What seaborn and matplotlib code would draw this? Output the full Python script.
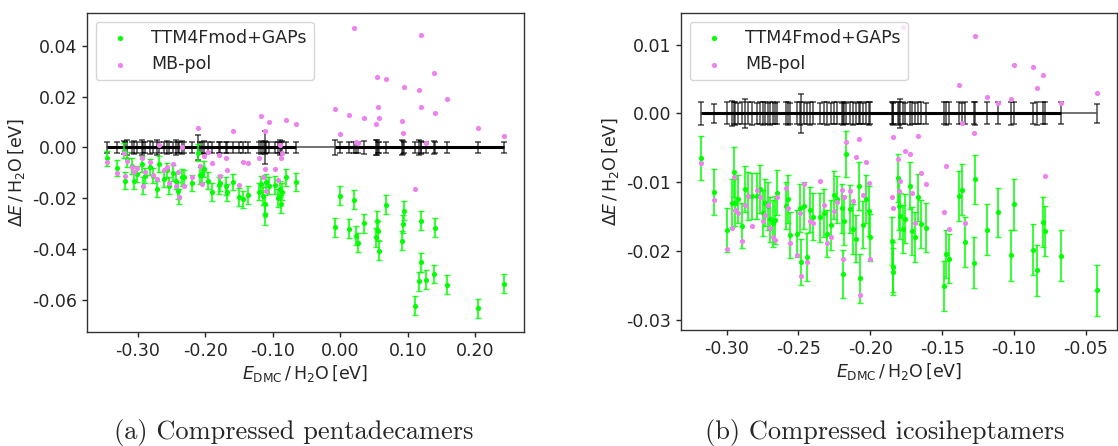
import numpy as np
import seaborn as sns
import matplotlib
matplotlib.use("Agg")
from matplotlib import pyplot as plt
from matplotlib.ticker import FormatStrFormatter

# (a) compressed pentadecamers: E_DMC per H2O, DMC error, TTM4Fmod+GAPs deviation (+ error), MB-pol deviation
penta_x = [-0.346, -0.331, -0.321, -0.319, -0.316, -0.309, -0.306, -0.301, -0.294, -0.292,
           -0.289, -0.282, -0.277, -0.272, -0.269, -0.262, -0.257, -0.254, -0.248, -0.243,
           -0.240, -0.239, -0.235, -0.231,
           -0.220, -0.211, -0.208, -0.205, -0.202, -0.196, -0.190, -0.180, -0.178, -0.170,
           -0.168, -0.159, -0.150, -0.144, -0.137, -0.120, -0.117, -0.114, -0.112, -0.111,
           -0.110, -0.106, -0.096, -0.093, -0.089, -0.088, -0.087, -0.080, -0.065,
           -0.008, 0.000, 0.013, 0.021, 0.023, 0.027, 0.035, 0.053, 0.055, 0.056,
           0.058, 0.068, 0.092, 0.093, 0.095, 0.111, 0.117, 0.119, 0.120, 0.127,
           0.139, 0.141, 0.159, 0.204, 0.243]
penta_dmc_err = [0.0023, 0.0023, 0.0025, 0.0023, 0.0028, 0.0023, 0.0025, 0.0023, 0.0028, 0.0023,
                 0.0023, 0.0025, 0.0023, 0.0028, 0.0023, 0.0023, 0.0025, 0.0023, 0.0023, 0.0028,
                 0.0023, 0.0023, 0.0025, 0.0023,
                 0.0023, 0.0050, 0.0023, 0.0023, 0.0025, 0.0023, 0.0023, 0.0023, 0.0023, 0.0023,
                 0.0023, 0.0023, 0.0023, 0.0023, 0.0023, 0.0023, 0.0025, 0.0023, 0.0025, 0.0065,
                 0.0023, 0.0023, 0.0023, 0.0023, 0.0028, 0.0023, 0.0025, 0.0023, 0.0023,
                 0.0030, 0.0023, 0.0023, 0.0023, 0.0023, 0.0023, 0.0025, 0.0030, 0.0028, 0.0023,
                 0.0023, 0.0023, 0.0028, 0.0025, 0.0023, 0.0023, 0.0028, 0.0025, 0.0023, 0.0023,
                 0.0025, 0.0023, 0.0023, 0.0023, 0.0023]
penta_ttm = [-0.0043, -0.0082, -0.0013, -0.0131, -0.0046, -0.0072, -0.0131, -0.0104, -0.0065, -0.0150,
             -0.0111, -0.0078, -0.0111, -0.0163, -0.0065, -0.0124, -0.0090, -0.0150, -0.0100, -0.0131,
             -0.0170, -0.0193, -0.0118, -0.0118,
             -0.0140, -0.0020, -0.0110, -0.0104, -0.0085, -0.0130, -0.0174, -0.0148, -0.0140, -0.0150,
             -0.0176, -0.0135, -0.0196, -0.0203, -0.0187, -0.0174, -0.0144, -0.0190, -0.0222, -0.0265,
             -0.0137, -0.0150, -0.0148, -0.0200, -0.0163, -0.0222, -0.0174, -0.0118, -0.0135,
             -0.0314, -0.0190, -0.0320, -0.0205, -0.0346, -0.0375, -0.0298, -0.0353, -0.0288, -0.0327,
             -0.0405, -0.0225, -0.0366, -0.0301, -0.0248, -0.0621, -0.0525, -0.0451, -0.0288, -0.0520,
             -0.0497, -0.0316, -0.0539, -0.0631, -0.0535]
penta_ttm_err = [0.0030, 0.0032, 0.0030, 0.0033, 0.0030, 0.0032, 0.0033, 0.0030, 0.0032, 0.0033,
                 0.0030, 0.0032, 0.0030, 0.0033, 0.0030, 0.0032, 0.0030, 0.0033, 0.0030, 0.0032,
                 0.0033, 0.0030, 0.0032, 0.0030,
                 0.0033, 0.0035, 0.0032, 0.0030, 0.0033, 0.0032, 0.0035, 0.0033, 0.0032, 0.0035,
                 0.0033, 0.0032, 0.0035, 0.0033, 0.0035, 0.0033, 0.0032, 0.0035, 0.0035, 0.0040,
                 0.0033, 0.0032, 0.0035, 0.0035, 0.0033, 0.0035, 0.0033, 0.0032, 0.0035,
                 0.0037, 0.0037, 0.0037, 0.0037, 0.0037, 0.0037, 0.0037, 0.0037, 0.0037, 0.0037,
                 0.0037, 0.0037, 0.0037, 0.0037, 0.0037, 0.0037, 0.0037, 0.0037, 0.0037, 0.0037,
                 0.0037, 0.0037, 0.0037, 0.0037, 0.0037]
penta_mbpol = [-0.0056, -0.0101, -0.0020, -0.0111, -0.0052, -0.0078, -0.0098, -0.0082, -0.0043, -0.0153,
               -0.0095, -0.0059, -0.0108, -0.0125, 0.0009, -0.0090, -0.0076, -0.0140, -0.0065, -0.0150,
               -0.0098, -0.0196, 0.0000, -0.0150,
               -0.0116, 0.0076, -0.0072, -0.0144, -0.0035, -0.0017, -0.0061, -0.0029, -0.0111, -0.0043,
               -0.0088, 0.0065, -0.0146, -0.0056, -0.0063, -0.0042, 0.0124, -0.0115, -0.0086, 0.0065,
               -0.0170, 0.0098, -0.0085, -0.0128, 0.0009, -0.0043, -0.0020, 0.0108, 0.0092,
               0.0152, 0.0054, 0.0127, 0.0471, 0.0022, 0.0017, 0.0114, 0.0094, 0.0275, 0.0158,
               0.0116, 0.0267, 0.0102, 0.0058, 0.0238, -0.0165, 0.0227, 0.0442, 0.0159, 0.0016,
               0.0294, 0.0137, 0.0191, 0.0078, 0.0045]

# (b) compressed icosiheptamers
icosi_x = [-0.318, -0.309, -0.300, -0.296, -0.295, -0.294, -0.292, -0.289, -0.287, -0.285,
           -0.282, -0.279, -0.277, -0.275, -0.273, -0.271, -0.270, -0.268, -0.266, -0.265,
           -0.259, -0.257, -0.256, -0.251, -0.249, -0.248, -0.246, -0.244, -0.242, -0.240,
           -0.235, -0.232, -0.230, -0.227, -0.225, -0.223, -0.220, -0.219, -0.218, -0.217,
           -0.214, -0.212, -0.210, -0.208, -0.207, -0.205, -0.203, -0.201, -0.200, -0.185,
           -0.1845, -0.184, -0.181, -0.180, -0.179, -0.177, -0.176, -0.172, -0.171, -0.169,
           -0.167, -0.165, -0.161, -0.149, -0.147, -0.145,
           -0.138, -0.136, -0.134, -0.128, -0.127, -0.119, -0.111, -0.102, -0.100, -0.087,
           -0.084, -0.080, -0.078, -0.067, -0.042]
icosi_dmc_err = [0.0017, 0.0014, 0.0016, 0.0018, 0.0016, 0.0017, 0.0015, 0.0016, 0.0021, 0.0016,
                 0.0017, 0.0015, 0.0016, 0.0017, 0.0016, 0.0015, 0.0017, 0.0016, 0.0015, 0.0016,
                 0.0016, 0.0017, 0.0015, 0.0016, 0.0017, 0.0028, 0.0016, 0.0015, 0.0017, 0.0016,
                 0.0015, 0.0016, 0.0017, 0.0015, 0.0016, 0.0016, 0.0015, 0.0017, 0.0016, 0.0015,
                 0.0016, 0.0017, 0.0015, 0.0016, 0.0016, 0.0015, 0.0016, 0.0017, 0.0016, 0.0016,
                 0.0017, 0.0015, 0.0016, 0.0017, 0.0021, 0.0016, 0.0015, 0.0017, 0.0016, 0.0015,
                 0.0016, 0.0016, 0.0015, 0.0016, 0.0017, 0.0016,
                 0.0016, 0.0015, 0.0016, 0.0016, 0.0017, 0.0016, 0.0016, 0.0017, 0.0016, 0.0015,
                 0.0017, 0.0016, 0.0016, 0.0016, 0.0014]
icosi_ttm = [-0.0065, -0.0114, -0.0170, -0.0130, -0.0085, -0.0130, -0.0125, -0.0163, -0.0110, -0.0120,
             -0.0120, -0.0120, -0.0110, -0.0145, -0.0130, -0.0134, -0.0154, -0.0160, -0.0155, -0.0115,
             -0.0134, -0.0125, -0.0177, -0.0175, -0.0137, -0.0216, -0.0134, -0.0209, -0.0140, -0.0150,
             -0.0151, -0.0145, -0.0175, -0.0162, -0.0119, -0.0125, -0.0138, -0.0234, -0.0156, -0.0059,
             -0.0139, -0.0168, -0.0182, -0.0105, -0.0240, -0.0162, -0.0125, -0.0142, -0.0180, -0.0185,
             -0.0223, -0.0230, -0.0094, -0.0134, -0.0149, -0.0168, -0.0153, -0.0105, -0.0171, -0.0180,
             -0.0122, -0.0161, -0.0166, -0.0251, -0.0204, -0.0211,
             -0.0120, -0.0111, -0.0187, -0.0217, -0.0096, -0.0169, -0.0144, -0.0206, -0.0132, -0.0198,
             -0.0228, -0.0158, -0.0171, -0.0207, -0.0257]
icosi_ttm_err = [0.0032, 0.0033, 0.0032, 0.0035, 0.0036, 0.0034, 0.0035, 0.0033, 0.0034, 0.0035,
                 0.0033, 0.0034, 0.0035, 0.0033, 0.0034, 0.0035, 0.0033, 0.0034, 0.0035, 0.0033,
                 0.0034, 0.0035, 0.0033, 0.0034, 0.0035, 0.0033, 0.0034, 0.0035, 0.0033, 0.0034,
                 0.0036, 0.0035, 0.0034, 0.0036, 0.0035, 0.0034, 0.0036, 0.0035, 0.0036, 0.0034,
                 0.0035, 0.0036, 0.0034, 0.0035, 0.0036, 0.0034, 0.0035, 0.0036, 0.0034, 0.0035,
                 0.0036, 0.0034, 0.0035, 0.0036, 0.0034, 0.0035, 0.0036, 0.0034, 0.0035, 0.0036,
                 0.0034, 0.0035, 0.0036, 0.0036, 0.0035, 0.0036,
                 0.0036, 0.0037, 0.0036, 0.0037, 0.0036, 0.0037, 0.0036, 0.0037, 0.0037, 0.0037,
                 0.0037, 0.0036, 0.0037, 0.0037, 0.0037]
icosi_mbpol = [-0.0072, -0.0126, -0.0197, -0.0167, -0.0092, -0.0140, -0.0145, -0.0185, -0.0133, -0.0120,
               -0.0163, -0.0112, -0.0122, -0.0156, -0.0148, -0.0133, -0.0166, -0.0180, -0.0184, -0.0122,
               -0.0108, -0.0138, -0.0189, -0.0206, -0.0145, -0.0237, -0.0103, -0.0216, -0.0157, -0.0160,
               -0.0098, -0.0133, -0.0189, -0.0179, -0.0142, -0.0129, -0.0111, -0.0212, -0.0122, -0.0042,
               -0.0113, -0.0128, -0.0064, -0.0037, -0.0264, -0.0119, -0.0071, -0.0101, -0.0212, -0.0121,
               -0.0138, -0.0035, -0.0066, -0.0113, -0.0098, 0.0125, -0.0054, -0.0059, -0.0115, -0.0159,
               -0.0033, -0.0086, -0.0102, -0.0143, -0.0076, -0.0168,
               0.0041, -0.0014, -0.0160, -0.0029, 0.0113, 0.0024, 0.0015, 0.0021, 0.0070, 0.0067,
               0.0037, 0.0056, -0.0091, 0.0015, 0.0029]

panels = [
    ("(a) Compressed pentadecamers", penta_x, penta_dmc_err, penta_ttm, penta_ttm_err, penta_mbpol, 0.05),
    ("(b) Compressed icosiheptamers", icosi_x, icosi_dmc_err, icosi_ttm, icosi_ttm_err, icosi_mbpol, 0.02),
]

sns.set_style("ticks", {"axes.edgecolor": "0.2"})
plt.rcParams['font.family'] = ['DejaVu Sans']
plt.rcParams['axes.unicode_minus'] = False
plt.rcParams['axes.linewidth'] = 1.0

fig = plt.figure(figsize=(11.18, 4.46), dpi=100)
ax_a = fig.add_axes([0.0778, 0.2556, 0.3909, 0.7152])
ax_b = fig.add_axes([0.6091, 0.2600, 0.3900, 0.7108])
caption_x = [0.263, 0.791]

for ax, (caption, x, dmc_err, ttm, ttm_err, mbpol, gap), cx in zip([ax_a, ax_b], panels, caption_x):
    x = np.array(x)
    zero = np.zeros_like(x)

    # DMC reference: thin line over the whole range, thick where the structures are dense
    ax.errorbar(x, zero, yerr=dmc_err, fmt='none', ecolor='k', elinewidth=1.1,
                capsize=2.5, capthick=1.1, alpha=0.7, zorder=2)
    xs = np.sort(x)
    ax.plot(xs, np.zeros_like(xs), color='0.35', lw=1.2, zorder=2)
    splits = np.where(np.diff(xs) >= gap)[0] + 1
    for cluster in np.split(xs, splits):
        if len(cluster) > 1:
            ax.plot(cluster, np.zeros_like(cluster), color='k', lw=2.2,
                    solid_capstyle='butt', zorder=2)

    # TTM4Fmod+GAPs with error bars
    ax.errorbar(x, ttm, yerr=ttm_err, fmt='none', ecolor='#00ff00', elinewidth=1.3,
                capsize=2.5, capthick=1.0, alpha=0.85, zorder=3)
    sns.scatterplot(x=x, y=ttm, ax=ax, color='#00ff00', s=14, linewidth=0,
                    label='TTM4Fmod+GAPs', zorder=4)
    # MB-pol
    sns.scatterplot(x=x, y=mbpol, ax=ax, color='violet', s=14, linewidth=0,
                    label='MB-pol', zorder=5)

    ax.set_xlabel(r'$E_\mathrm{DMC}\,/\,\mathrm{H_2O}\,[\mathrm{eV}]$', fontsize=12.5, labelpad=2)
    ax.set_ylabel(r'$\Delta E\,/\,\mathrm{H_2O}\,[\mathrm{eV}]$', fontsize=12.5, labelpad=4)
    ax.xaxis.set_major_formatter(FormatStrFormatter('%.2f'))
    ax.yaxis.set_major_formatter(FormatStrFormatter('%.2f'))
    ax.tick_params(labelsize=12.5, length=3.5, width=1)
    for side in ['top', 'right']:
        ax.spines[side].set_visible(True)
    ax.legend(loc='upper left', fontsize=12.5, markerscale=1.0, handletextpad=0.8)

    fig.text(cx, 0.016, caption, ha='center', va='baseline', fontsize=19,
             family=['cmr10', 'DejaVu Serif'])

fig.savefig('out.png', dpi=100)
